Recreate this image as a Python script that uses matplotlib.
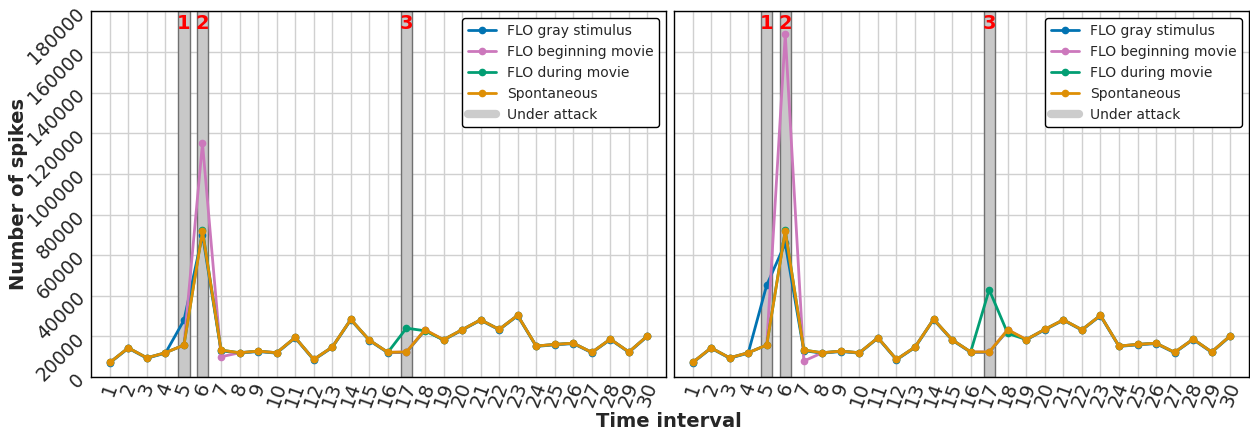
import matplotlib.pyplot as plt
from matplotlib.lines import Line2D
import seaborn as sns

sns.set_theme(style="whitegrid", palette="colorblind")

intervals = list(range(1, 31))
attacks = [5, 6, 17]
names = ["FLO gray stimulus", "FLO beginning movie", "FLO during movie", "Spontaneous"]
colors = ["#0173b2", "#cc78bc", "#029e73", "#de8f05"]

# spike counts per interval, left run
spont_a = [7200, 14400, 9500, 12000, 15800, 71700, 13300, 12000, 12800, 12000,
           19500, 8700, 14800, 28400, 18200, 12200, 12400, 23300, 18400, 23300,
           28200, 23500, 30400, 15300, 16100, 16700, 12200, 18700, 12400, 20300]
gray_a = [7000, 14200, 9300, 11800, 28000, 70000, 13000, 11800, 12600, 11800,
          19300, 8500, 14600, 28200, 18000, 12000, 12200, 23000, 18200, 23100,
          28000, 23300, 30200, 15100, 15900, 16500, 12000, 18500, 12200, 20100]
begin_a = [7200, 14400, 9500, 12000, 15800, 115100, 10000, 12000, 12800, 12000,
           19500, 8700, 14800, 28400, 18200, 12200, 12400, 23300, 18400, 23300,
           28200, 23500, 30400, 15300, 16100, 16700, 12200, 18700, 12400, 20300]
during_a = [7200, 14400, 9500, 12000, 15800, 72300, 13300, 12000, 12800, 12000,
            19500, 8700, 14800, 28400, 18200, 12200, 24100, 22800, 18400, 23300,
            28200, 23500, 30400, 15300, 16100, 16700, 12200, 18700, 12400, 20300]

# spike counts per interval, right run
spont_b = [7200, 14400, 9500, 12000, 15800, 71900, 13300, 12000, 12800, 12000,
           19400, 8700, 14800, 28500, 18400, 12400, 12400, 23300, 18500, 23500,
           28200, 23300, 30400, 15300, 16100, 16700, 12200, 18700, 12400, 20300]
gray_b = [7000, 14200, 9300, 11800, 45300, 65800, 13000, 11800, 12600, 11800,
          19200, 8500, 14600, 28300, 18200, 12200, 12200, 23000, 18300, 23300,
          28000, 23100, 30200, 15100, 15900, 16500, 12000, 18500, 12200, 20100]
begin_b = [7200, 14400, 9500, 12000, 15800, 168800, 7900, 12000, 12800, 12000,
           19400, 8700, 14800, 28500, 18400, 12400, 12400, 23300, 18500, 23500,
           28200, 23300, 30400, 15300, 16100, 16700, 12200, 18700, 12400, 20300]
during_b = [7200, 14400, 9500, 12000, 15800, 72200, 13300, 12000, 12800, 12000,
            19400, 8700, 14800, 28500, 18400, 12400, 43000, 21500, 18500, 23500,
            28200, 23300, 30400, 15300, 16100, 16700, 12200, 18700, 12400, 20300]

runs = [[gray_a, begin_a, during_a, spont_a], [gray_b, begin_b, during_b, spont_b]]

fig, axes = plt.subplots(1, 2, figsize=(12.5, 4.32), dpi=100, sharey=True)
fig.subplots_adjust(left=0.073, right=0.999, bottom=0.127, top=0.974, wspace=0.014)

for ax, run in zip(axes, runs):
    for k, t in enumerate(attacks):
        ax.axvspan(t - 0.3, t + 0.3, facecolor="#c8c8c8", edgecolor="#707070", lw=1, zorder=1)
        ax.text(t, 174000, str(k + 1), color="red", fontweight="bold", fontsize=14,
                ha="center", va="center", zorder=5)
    for vals, name, col in zip(run, names, colors):
        ax.plot(intervals, vals, marker="o", markersize=4.5, lw=2, color=col, label=name, zorder=3)

    ax.set_xlim(0, 31)
    ax.set_ylim(0, 180000)
    ax.set_xticks(intervals)
    ax.set_xticklabels(intervals, rotation=70, fontsize=14)
    ax.set_yticks(range(0, 180001, 20000))
    ax.tick_params(axis="both", length=0, pad=2)
    ax.grid(True, color="#d0d0d0", lw=1)
    for s in ax.spines.values():
        s.set_color("black")
        s.set_linewidth(1)

    handles, labels = ax.get_legend_handles_labels()
    handles.append(Line2D([], [], color="#cccccc", lw=6))
    labels.append("Under attack")
    leg = ax.legend(handles, labels, loc="upper right", fontsize=10, frameon=True,
                    facecolor="white", framealpha=1)
    leg.get_frame().set_edgecolor("black")

for lab in axes[0].get_yticklabels():
    lab.set_rotation(45)
    lab.set_fontsize(13.5)
axes[1].tick_params(axis="y", labelleft=False)

fig.text(0.015, 0.551, "Number of spikes", fontsize=14, fontweight="bold",
         rotation=90, ha="center", va="center")
fig.text(0.535, 0.025, "Time interval", fontsize=14, fontweight="bold", ha="center", va="center")

fig.savefig("out.png", dpi=100)
